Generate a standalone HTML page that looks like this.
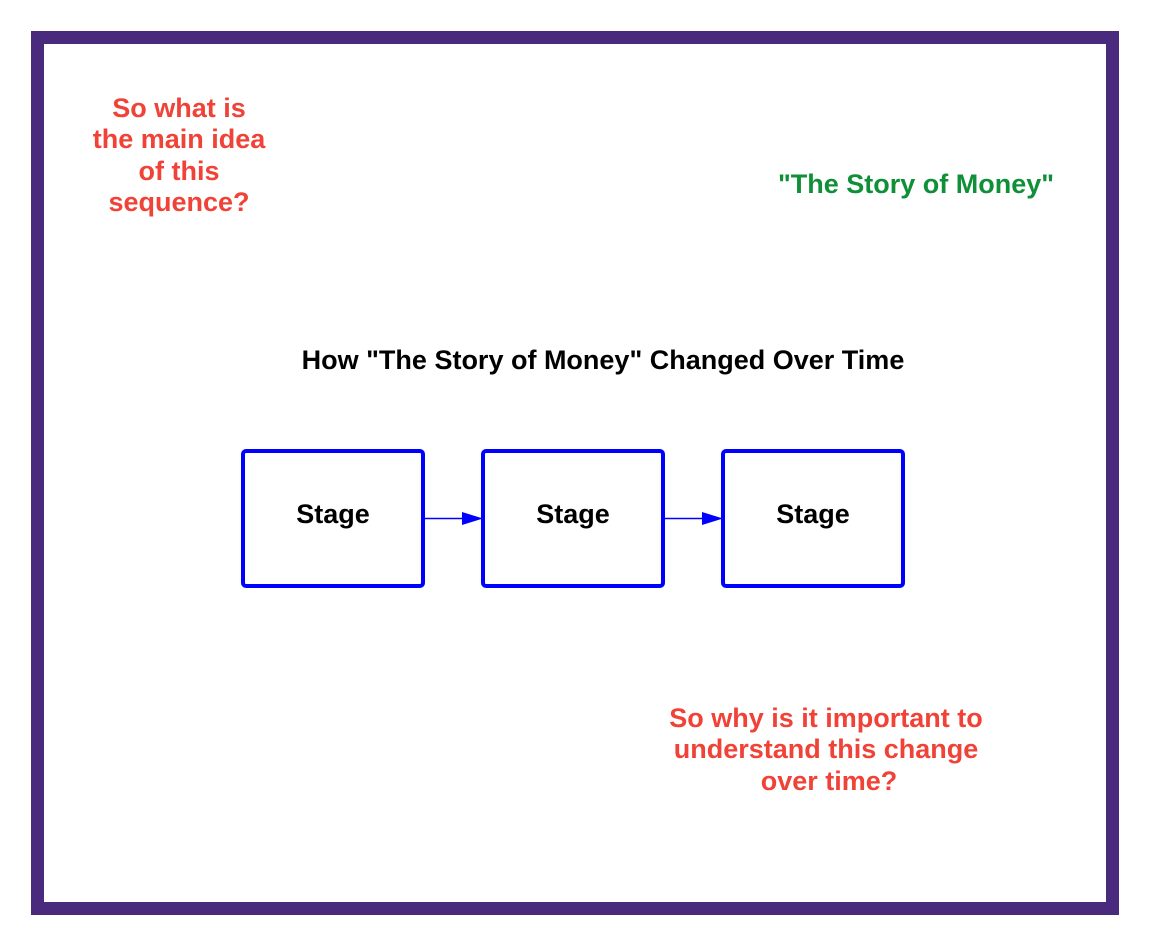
<!DOCTYPE html>
<html><head><style>
html,body{margin:0;padding:0;background:#fff;}
svg{display:block;}
text{font-family:"Liberation Sans",Arial,sans-serif;font-weight:bold;}
</style></head><body>
<svg width="1150" height="946" viewBox="0 0 1150 946" xmlns="http://www.w3.org/2000/svg">
<rect x="37.5" y="37.5" width="1075" height="871" fill="#fff" stroke="#4a2a7c" stroke-width="13"/>
<g fill="#f04236" font-size="27" text-anchor="middle">
<text x="179" y="117">So what is</text>
<text x="179" y="148">the main idea</text>
<text x="179" y="180">of this</text>
<text x="179" y="211">sequence?</text>
<text x="826" y="727">So why is it important to</text>
<text x="826" y="758">understand this change</text>
<text x="829" y="790">over time?</text>
</g>
<text x="916" y="193" fill="#0f9038" font-size="27" text-anchor="middle">"The Story of Money"</text>
<text x="603" y="369" fill="#000" font-size="27" text-anchor="middle">How "The Story of Money" Changed Over Time</text>
<g fill="none" stroke="#0000ff" stroke-width="4">
<rect x="243" y="451" width="180" height="135" rx="3"/>
<rect x="483" y="451" width="180" height="135" rx="3"/>
<rect x="723" y="451" width="180" height="135" rx="3"/>
</g>
<g stroke="#0000ff" stroke-width="1.5">
<line x1="425" y1="518.5" x2="465" y2="518.5"/>
<line x1="665" y1="518.5" x2="705" y2="518.5"/>
</g>
<g fill="#0000ff">
<polygon points="462,512 483,518.5 462,525"/>
<polygon points="702,512 723,518.5 702,525"/>
</g>
<g fill="#000" font-size="27" text-anchor="middle">
<text x="333" y="523">Stage</text>
<text x="573" y="523">Stage</text>
<text x="813" y="523">Stage</text>
</g>
</svg>
</body></html>
